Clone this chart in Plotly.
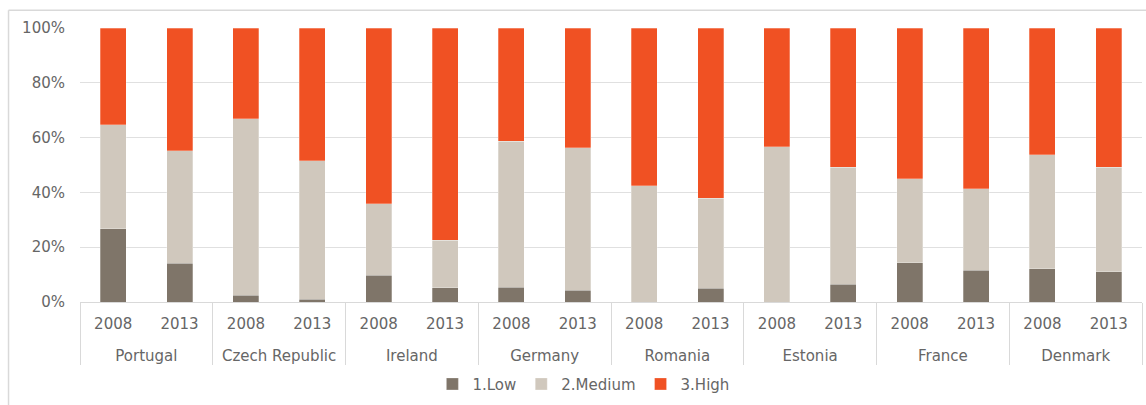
import plotly.graph_objects as go

countries = ["Portugal", "Czech Republic", "Ireland", "Germany", "Romania", "Estonia", "France", "Denmark"]
years = ["2008", "2013"]

# shares (%) for each country/year, in order: c1-2008, c1-2013, c2-2008, ...
low = [26.8, 14.1, 2.4, 1.0, 9.7, 5.2, 5.4, 4.2, 0.0, 5.0, 0.0, 6.4, 14.4, 11.5, 12.1, 11.1]
medium_top = [64.7, 55.2, 66.8, 51.6, 35.9, 22.5, 58.7, 56.3, 42.4, 37.9, 56.6, 49.2, 44.9, 41.4, 53.7, 49.2]
medium = [round(m - l, 1) for m, l in zip(medium_top, low)]
high = [round(100 - m, 1) for m in medium_top]
y_ticks = [0, 20, 40, 60, 80, 100]
y_labels = [f"{v}%" for v in y_ticks]

x_country = ["<br>" + c for c in countries for _ in years]
x_year = [y for _ in countries for y in years]
x = [x_country, x_year]

series = [
    ("1.Low", low, "#7f7569"),
    ("2.Medium", medium, "#d0c8bd"),
    ("3.High", high, "#f05123"),
]

fig = go.Figure()
for name, vals, col in series:
    fig.add_trace(go.Bar(
        x=x, y=vals, name=name,
        marker=dict(color=col, line=dict(width=0.6, color="rgba(255,255,255,0.45)")),
    ))

font_fam = "DejaVu Sans, Verdana, sans-serif"
fig.update_layout(
    barmode="stack",
    bargap=0.61,
    width=1146, height=405,
    margin=dict(l=80, r=4, t=28, b=101),
    paper_bgcolor="white",
    plot_bgcolor="white",
    font=dict(family=font_fam, size=15, color="#666666"),
    legend=dict(orientation="h", x=0.474, xanchor="center", y=-0.30, yanchor="middle",
                font=dict(size=15, color="#666666"), traceorder="normal", itemwidth=30),
    showlegend=True,
)
fig.update_yaxes(
    range=[0, 100], tickvals=y_ticks, ticktext=y_labels,
    showgrid=True, gridcolor="#e0e0e0", gridwidth=1, zeroline=False,
    showline=False, ticklabelstandoff=14,
)
fig.update_xaxes(
    type="multicategory", showline=True, linecolor="#d9d9d9", linewidth=1,
    showdividers=True, dividercolor="#d9d9d9", dividerwidth=1,
    ticks="", tickfont=dict(size=15, color="#666666"), ticklabelstandoff=8,
)
# outer chart border (left and top edges visible)
fig.add_shape(type="line", xref="paper", yref="paper",
              x0=-0.0673, x1=-0.0673, y0=1.0652, y1=-0.40,
              line=dict(color="#d9d9d9", width=1.5))
fig.add_shape(type="line", xref="paper", yref="paper",
              x0=-0.0673, x1=1.01, y0=1.0652, y1=1.0652,
              line=dict(color="#d9d9d9", width=1.5))

fig.write_html("out.html")
